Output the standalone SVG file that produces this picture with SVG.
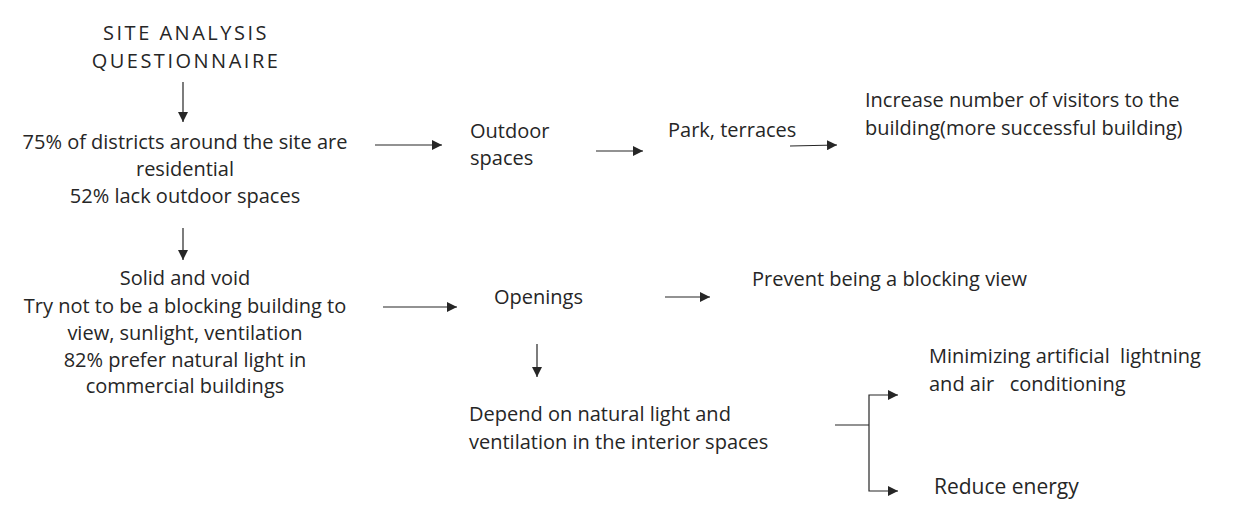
<svg xmlns="http://www.w3.org/2000/svg" width="1237" height="514" viewBox="0 0 1237 514">
<defs>
<marker id="ah" viewBox="0 0 10 10" refX="10" refY="5" markerWidth="10" markerHeight="10" markerUnits="userSpaceOnUse" orient="auto">
<path d="M0,0 L10,5 L0,10 Z" fill="#262626"/>
</marker>
</defs>
<style>
text{font-family:"Open Sans","Noto Sans",sans-serif;font-size:20px;fill:#262626}
.c{text-anchor:middle}
.t{letter-spacing:2.5px}
.l{stroke:#262626;stroke-width:1.2;fill:none}
.a{stroke:#262626;stroke-width:1.2;fill:none;marker-end:url(#ah)}
</style>
<rect width="1237" height="514" fill="#fff"/>
<g id="title"><text class="c t" x="186" y="40">SITE ANALYSIS</text><text class="c t" x="186" y="68">QUESTIONNAIRE</text></g>
<g id="n1"><text class="c" x="185" y="149">75% of districts around the site are</text><text class="c" x="185" y="176">residential</text><text class="c" x="185" y="203">52% lack outdoor spaces</text></g>
<g id="n2"><text class="c" x="185" y="285">Solid and void</text><text class="c" x="185" y="313">Try not to be a blocking building to</text><text class="c" x="185" y="340">view, sunlight, ventilation</text><text class="c" x="185" y="367">82% prefer natural light in</text><text class="c" x="185" y="393">commercial buildings</text></g>
<g id="n3"><text x="470" y="138">Outdoor</text><text x="470" y="165">spaces</text></g>
<g id="n4"><text x="668" y="137">Park, terraces</text></g>
<g id="n5"><text x="865" y="107">Increase number of visitors to the</text><text x="865" y="135">building(more successful building)</text></g>
<g id="n6"><text x="494" y="304">Openings</text></g>
<g id="n7"><text x="752" y="286">Prevent being a blocking view</text></g>
<g id="n8"><text x="469" y="421">Depend on natural light and</text><text x="469" y="449">ventilation in the interior spaces</text></g>
<g id="n9"><text x="929" y="363" xml:space="preserve">Minimizing artificial  lightning</text><text x="929" y="391" xml:space="preserve">and air   conditioning</text></g>
<g id="n10"><text x="934" y="494" style="font-size:21px">Reduce energy</text></g>
<g id="connectors">
<line class="a" x1="183" y1="82" x2="183" y2="122"/>
<line class="a" x1="183" y1="228" x2="183" y2="260"/>
<line class="a" x1="375" y1="145" x2="442" y2="145"/>
<line class="a" x1="596" y1="151" x2="643" y2="151"/>
<line class="a" x1="790" y1="146" x2="837" y2="145"/>
<line class="a" x1="383" y1="307" x2="457" y2="307"/>
<line class="a" x1="665" y1="297" x2="710" y2="297"/>
<line class="a" x1="537" y1="344" x2="537" y2="377"/>
<path class="l" d="M835,425 H869"/>
<path class="a" d="M869,425 V395 H898"/>
<path class="a" d="M869,425 V491 H898"/>
</g>
</svg>
